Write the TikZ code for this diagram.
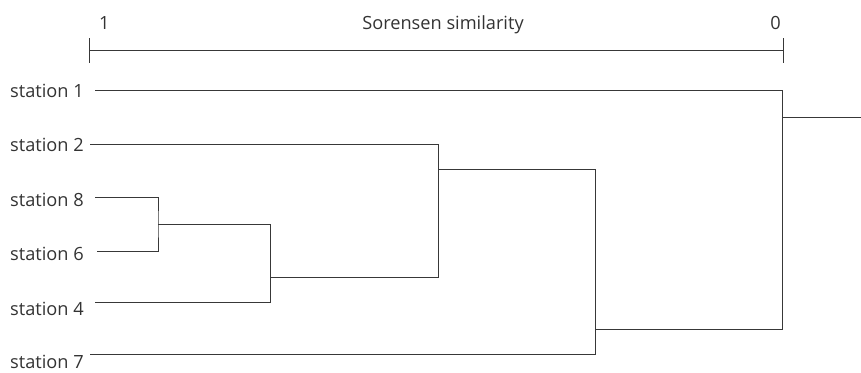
\documentclass[tikz,border=0pt]{standalone}
\usepackage{fontspec}
\setmainfont{Open Sans}
\definecolor{ink}{HTML}{333333}
\definecolor{wire}{HTML}{383838}
\begin{document}
\begin{tikzpicture}[x=1pt,y=-1pt,
  lbl/.style={inner sep=0pt,anchor=base west,text=ink,font=\fontsize{18.2}{20}\selectfont},
  edge/.style={draw=wire,line width=1pt,line cap=rect}]
\useasboundingbox (0,0) rectangle (861,372);
% axis
\node[lbl,anchor=base west] (one) at (99,29) {1};
\node[lbl,anchor=base east] (zero) at (781,29) {0};
\node[lbl,anchor=base] (title) at (443,29) {Sorensen similarity};
\coordinate (axL) at (89,50);
\coordinate (axR) at (783,50);
\draw[edge] (axL) -- (axR);
\draw[edge] (89,38) -- (89,62);
\draw[edge] (783,38) -- (783,62);
% labels
\node[lbl] (s1) at (10,97) {station 1};
\node[lbl] (s2) at (10,151) {station 2};
\node[lbl] (s8) at (10,206) {station 8};
\node[lbl] (s6) at (10,260) {station 6};
\node[lbl] (s4) at (10,315) {station 4};
\node[lbl] (s7) at (10,368) {station 7};
% leaf starts
\coordinate (l1) at (95,90);
\coordinate (l2) at (90,144);
\coordinate (l8) at (95,197);
\coordinate (l6) at (97,251);
\coordinate (l4) at (95,302);
\coordinate (l7) at (90,354);
% merge nodes
\coordinate (m86) at (158,224);
\coordinate (m864) at (270,277);
\coordinate (m2) at (438,169);
\coordinate (m7) at (595,329);
\coordinate (root) at (782,117);
\coordinate (rootEnd) at (861,117);
% dendrogram
\draw[edge] (l8) -| (m86) |- (l6);
\draw[edge] (m86) -| (m864);
\draw[edge] (l4) -| (m864);
\draw[edge] (m864) -| (m2);
\draw[edge] (l2) -| (m2);
\draw[edge] (m2) -| (m7);
\draw[edge] (l7) -| (m7);
\draw[edge] (m7) -| (root);
\draw[edge] (l1) -| (root);
\draw[edge] (root) -- (rootEnd);
\end{tikzpicture}
\end{document}
